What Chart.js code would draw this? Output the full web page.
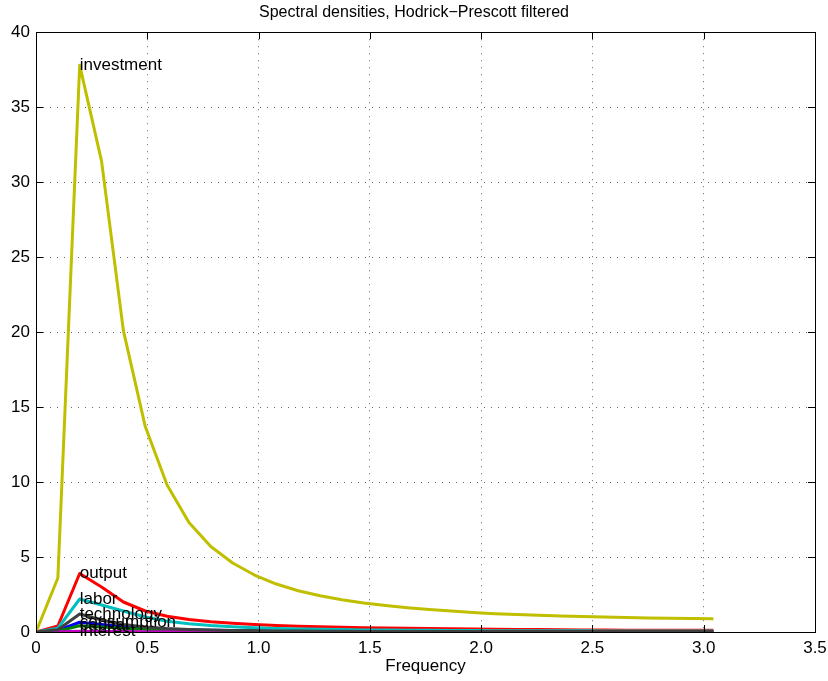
<!DOCTYPE html>
<html>
<head>
<meta charset="utf-8">
<script src="https://cdn.jsdelivr.net/npm/chart.js@4"></script>
<style>
  html, body { margin: 0; padding: 0; background: #fff; }
  #wrap { width: 828px; height: 681px; }
</style>
</head>
<body>
<div id="wrap"><canvas id="chart" width="828" height="681"></canvas></div>
<script>
// ─── Data (frequency grid 2*pi*k/64, k = 0..31) ───
const FREQS = [0, 0.0982, 0.1963, 0.2945, 0.3927, 0.4909, 0.5890, 0.6872, 0.7854, 0.8836,
  0.9817, 1.0799, 1.1781, 1.2763, 1.3744, 1.4726, 1.5708, 1.6690, 1.7671, 1.8653,
  1.9635, 2.0617, 2.1598, 2.2580, 2.3562, 2.4544, 2.5525, 2.6507, 2.7489, 2.8471,
  2.9452, 3.0434];

const consumption = [0, 0.1, 0.65, 0.5, 0.35, 0.26, 0.19, 0.15, 0.12, 0.1, 0.08, 0.07, 0.06, 0.05, 0.05, 0.04,
  0.04, 0.04, 0.03, 0.03, 0.03, 0.03, 0.03, 0.03, 0.02, 0.02, 0.02, 0.02, 0.02, 0.02, 0.02, 0.02];
const capital = [0, 0.06, 0.42, 0.33, 0.25, 0.19, 0.14, 0.11, 0.09, 0.07, 0.06, 0.05, 0.04, 0.04, 0.03, 0.03,
  0.03, 0.03, 0.02, 0.02, 0.02, 0.02, 0.02, 0.02, 0.02, 0.02, 0.02, 0.02, 0.02, 0.02, 0.02, 0.02];
const output = [0, 0.4, 3.9, 3.0, 2.0, 1.4, 1.05, 0.83, 0.68, 0.58, 0.5, 0.44, 0.39, 0.35, 0.32, 0.29,
  0.27, 0.25, 0.23, 0.21, 0.2, 0.18, 0.17, 0.16, 0.15, 0.14, 0.13, 0.12, 0.12, 0.11, 0.11, 0.11];
const labor = [0, 0.25, 2.2, 1.8, 1.4, 1.0, 0.72, 0.55, 0.43, 0.35, 0.29, 0.24, 0.2, 0.18, 0.16, 0.14,
  0.13, 0.12, 0.11, 0.1, 0.1, 0.09, 0.09, 0.08, 0.08, 0.08, 0.07, 0.07, 0.07, 0.07, 0.07, 0.07];
const interest = [0, 0.01, 0.05, 0.04, 0.03, 0.02, 0.02, 0.02, 0.01, 0.01, 0.01, 0.01, 0.01, 0.01, 0.01, 0.01,
  0.01, 0.01, 0.01, 0.01, 0.01, 0.01, 0.01, 0.01, 0.01, 0.01, 0.01, 0.01, 0.01, 0.01, 0.01, 0.01];
const investment = [0, 3.6, 37.8, 31.4, 20.1, 13.7, 9.8, 7.3, 5.7, 4.6, 3.8, 3.2, 2.75, 2.42, 2.15, 1.93,
  1.76, 1.62, 1.5, 1.4, 1.3, 1.22, 1.16, 1.11, 1.07, 1.03, 1.0, 0.97, 0.94, 0.92, 0.9, 0.88];
const technology = [0, 0.15, 1.2, 0.8, 0.5, 0.33, 0.23, 0.17, 0.13, 0.1, 0.08, 0.07, 0.06, 0.05, 0.05, 0.04,
  0.04, 0.04, 0.03, 0.03, 0.03, 0.03, 0.03, 0.03, 0.03, 0.03, 0.03, 0.03, 0.03, 0.03, 0.03, 0.03];

const X_TICKS = [0, 0.5, 1, 1.5, 2, 2.5, 3, 3.5];
const Y_TICKS = [0, 5, 10, 15, 20, 25, 30, 35, 40];

// MATLAB colour order, drawn in this order (later on top)
const SERIES = [
  { label: 'consumption', data: consumption, color: 'rgb(0,0,255)' },
  { label: 'capital', data: capital, color: 'rgb(0,128,0)' },
  { label: 'output', data: output, color: 'rgb(255,0,0)' },
  { label: 'labor', data: labor, color: 'rgb(0,191,191)' },
  { label: 'interest', data: interest, color: 'rgb(191,0,191)' },
  { label: 'investment', data: investment, color: 'rgb(191,191,0)' },
  { label: 'technology', data: technology, color: 'rgb(64,64,64)' },
];

const FONT = "'Liberation Sans', Arial, sans-serif";

// ─── Labels at the peak point + frame and inward ticks ───
const peakLabels = {
  id: 'peakLabels',
  afterDatasetsDraw(chart) {
    const { ctx, scales: { x, y } } = chart;
    ctx.save();
    ctx.font = `17px ${FONT}`;
    ctx.fillStyle = '#000';
    ctx.textAlign = 'left';
    ctx.textBaseline = 'middle';
    SERIES.forEach(s => {
      ctx.fillText(s.label, x.getPixelForValue(FREQS[2]), y.getPixelForValue(s.data[2]));
    });
    ctx.restore();
  },
  afterDraw(chart) {
    const { ctx, chartArea: a, scales: { x, y } } = chart;
    ctx.save();
    ctx.strokeStyle = '#000';
    ctx.lineWidth = 1;
    ctx.beginPath();
    X_TICKS.forEach(v => {
      const px = Math.round(x.getPixelForValue(v)) + 0.5;
      ctx.moveTo(px, a.bottom); ctx.lineTo(px, a.bottom - 7);
      ctx.moveTo(px, a.top); ctx.lineTo(px, a.top + 7);
    });
    Y_TICKS.forEach(v => {
      const py = Math.round(y.getPixelForValue(v)) + 0.5;
      ctx.moveTo(a.left, py); ctx.lineTo(a.left + 7, py);
      ctx.moveTo(a.right, py); ctx.lineTo(a.right - 7, py);
    });
    ctx.stroke();
    ctx.strokeRect(Math.round(a.left) + 0.5, Math.round(a.top) + 0.5,
      Math.round(a.right - a.left), Math.round(a.bottom - a.top));
    ctx.restore();
  }
};

new Chart(document.getElementById('chart'), {
  type: 'line',
  data: {
    datasets: SERIES.slice().reverse().map(s => ({
      label: s.label,
      data: FREQS.map((f, i) => ({ x: f, y: s.data[i] })),
      borderColor: s.color,
      backgroundColor: s.color,
      borderWidth: 3,
      borderJoinStyle: 'round',
      pointRadius: 0,
      tension: 0,
      fill: false,
    }))
  },
  options: {
    responsive: false,
    animation: false,
    layout: { padding: { top: 0, right: 0, left: 0, bottom: 0 } },
    plugins: {
      legend: { display: false },
      tooltip: { enabled: false },
      title: {
        display: true,
        text: 'Spectral densities, Hodrick\u2212Prescott filtered',
        color: '#000',
        font: { family: FONT, size: 16, weight: 'normal' },
        padding: { top: 3, bottom: 10 },
      },
    },
    scales: {
      x: {
        type: 'linear',
        min: 0, max: 3.5,
        afterBuildTicks: s => { s.ticks = X_TICKS.map(v => ({ value: v })); },
        afterFit: s => { s.height = 49; s.paddingLeft = 0; s.paddingRight = 13; },
        grid: { color: 'rgba(0,0,0,0.6)', lineWidth: 1, drawTicks: false },
        border: { display: false, dash: [1, 6] },
        ticks: { color: '#000', padding: 6, maxRotation: 0, font: { family: FONT, size: 17 } },
        title: { display: true, text: 'Frequency', color: '#000', font: { family: FONT, size: 17 }, padding: { top: 0, bottom: 4 } },
      },
      y: {
        type: 'linear',
        min: 0, max: 40,
        afterBuildTicks: s => { s.ticks = Y_TICKS.map(v => ({ value: v })); },
        afterFit: s => { s.width = 36; },
        grid: { color: 'rgba(0,0,0,0.6)', lineWidth: 1, drawTicks: false },
        border: { display: false, dash: [1, 6] },
        ticks: { color: '#000', padding: 6, font: { family: FONT, size: 17 } },
      },
    },
  },
  plugins: [peakLabels],
});
</script>
</body>
</html>
